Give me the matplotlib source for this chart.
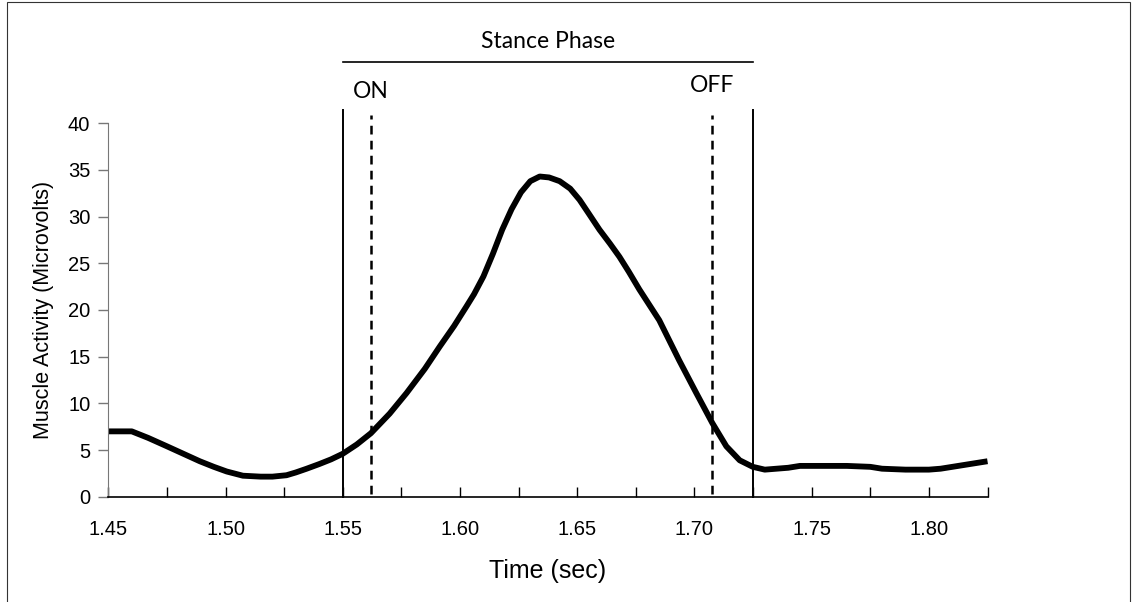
import matplotlib.pyplot as plt
from matplotlib.patches import Rectangle

# EMG envelope (time in sec, activity in microvolts)
time_s = [1.450, 1.460, 1.467, 1.475, 1.482, 1.489, 1.495, 1.5005, 1.5074, 1.515,
          1.520, 1.526, 1.530, 1.5346, 1.540, 1.545, 1.550, 1.556, 1.562, 1.570,
          1.5772, 1.585, 1.5914, 1.5975, 1.6028, 1.6060, 1.6100, 1.6140, 1.6180, 1.6220,
          1.6260, 1.6300, 1.634, 1.638, 1.6425, 1.647, 1.651, 1.655, 1.6595, 1.664,
          1.668, 1.672, 1.6765, 1.685, 1.6935, 1.7008, 1.7076, 1.7136, 1.7193, 1.7249,
          1.730, 1.735, 1.740, 1.745, 1.755, 1.765, 1.775, 1.780, 1.790, 1.800,
          1.805, 1.810, 1.815, 1.820, 1.825]
emg_uv = [7.0, 7.0, 6.3, 5.4, 4.6, 3.8, 3.2, 2.7, 2.25, 2.15,
          2.15, 2.3, 2.6, 3.0, 3.5, 4.0, 4.6, 5.6, 6.8, 8.9,
          11.1, 13.7, 16.1, 18.3, 20.4, 21.7, 23.6, 26.0, 28.6, 30.8,
          32.6, 33.8, 34.3, 34.2, 33.8, 33.0, 31.8, 30.3, 28.6, 27.1,
          25.7, 24.1, 22.2, 18.9, 14.6, 11.1, 7.9, 5.4, 3.9, 3.2,
          2.9, 3.0, 3.1, 3.3, 3.3, 3.3, 3.2, 3.0, 2.9, 2.9,
          3.0, 3.2, 3.4, 3.6, 3.8]

stance_on, stance_off = 1.55, 1.725     # solid lines
emg_on, emg_off = 1.562, 1.7076         # dashed lines

x_ticks = [1.45 + 0.025 * i for i in range(16)]
x_labels = ['1.45', '', '1.50', '', '1.55', '', '1.60', '', '1.65', '', '1.70', '', '1.75', '', '1.80', '']
y_ticks = [0, 5, 10, 15, 20, 25, 30, 35, 40]

plt.rcParams['font.family'] = ['Liberation Sans', 'DejaVu Sans']
note_font = ['Lato', 'DejaVu Sans']

fig = plt.figure(figsize=(11.39, 6.02), dpi=100)
fig.patches.append(Rectangle((0.006, -0.02), 0.986, 1.016, transform=fig.transFigure,
                             fill=False, edgecolor='#333333', linewidth=0.8))
ax = fig.add_axes([0.0951, 0.1749, 0.7719, 0.6203])

ax.plot(time_s, emg_uv, color='black', linewidth=4.2, solid_capstyle='butt')

for xv in (stance_on, stance_off):
    ax.plot([xv, xv], [0, 41.4], color='black', linewidth=1.4, clip_on=False)
for xv in (emg_on, emg_off):
    ax.plot([xv, xv], [0.3, 40.9], color='black', linewidth=1.8, linestyle=(0, (3.5, 2.5)),
            clip_on=False)

ax.plot([stance_on, stance_off], [46.6, 46.6], color='black', linewidth=1.2, clip_on=False)
ax.text((stance_on + stance_off) / 2, 48.8, 'Stance Phase', ha='center', va='center',
        fontsize=16.5, family=note_font)
ax.text(emg_on, 43.4, 'ON', ha='center', va='center', fontsize=16.5, family=note_font)
ax.text(emg_off, 44.0, 'OFF', ha='center', va='center', fontsize=16.5, family=note_font)

ax.set_xlim(1.45, 1.825)
ax.set_ylim(0, 40)
ax.set_xticks(x_ticks)
ax.set_xticklabels(x_labels)
ax.set_yticks(y_ticks)
ax.tick_params(axis='x', direction='in', length=7, width=1, labelsize=14.5, pad=17)
ax.tick_params(axis='y', direction='out', length=7, width=1, labelsize=14.5, pad=6,
               color='#777777')
ax.spines['top'].set_visible(False)
ax.spines['right'].set_visible(False)
ax.spines['left'].set_color('#777777')
ax.spines['bottom'].set_linewidth(1.2)

ax.set_xlabel('Time (sec)', fontsize=18, labelpad=14)
ax.set_ylabel('Muscle Activity (Microvolts)', fontsize=15.5, labelpad=10)

fig.savefig('out.png', dpi=100, facecolor='white')
